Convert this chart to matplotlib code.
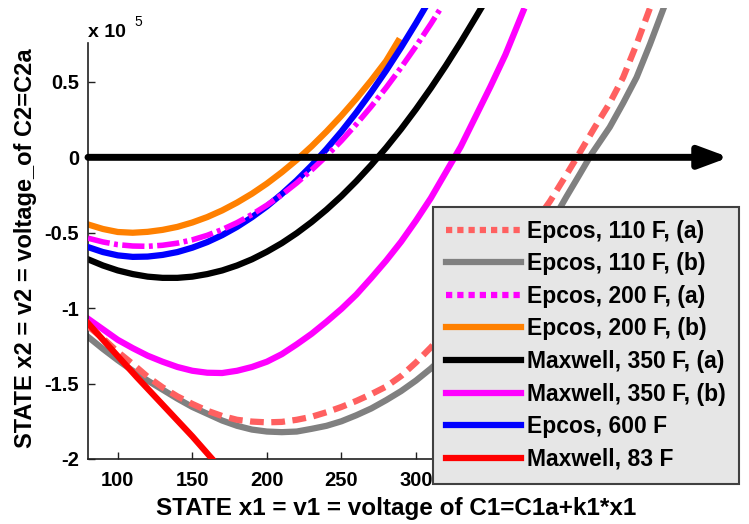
import matplotlib
matplotlib.use("Agg")
import matplotlib.pyplot as plt
from matplotlib.lines import Line2D

plt.rcParams['font.family'] = ['Liberation Sans', 'DejaVu Sans']
plt.rcParams['font.weight'] = 'bold'

# ---- data (y in units of 1e5) ----
labels = ["Epcos, 110 F, (a)", "Epcos, 110 F, (b)", "Epcos, 200 F, (a)", "Epcos, 200 F, (b)",
          "Maxwell, 350 F, (a)", "Maxwell, 350 F, (b)", "Epcos, 600 F", "Maxwell, 83 F"]

e110a_x = [80, 90, 100, 110, 120, 130, 140, 150, 160, 170, 180, 190, 200, 210, 220, 230, 240, 250,
           260, 270, 280, 290, 300, 310, 320, 330, 340, 350, 360, 370, 380, 390, 400, 408, 420, 430,
           439, 448, 457]
e110a_y = [-1.12, -1.20, -1.29, -1.37, -1.455, -1.525, -1.585, -1.635, -1.68, -1.715, -1.74, -1.752,
           -1.757, -1.754, -1.74, -1.72, -1.69, -1.655, -1.615, -1.57, -1.52, -1.45, -1.36, -1.26,
           -1.15, -1.045, -0.935, -0.82, -0.70, -0.57, -0.43, -0.29, -0.13, 0.0, 0.20, 0.36, 0.53,
           0.75, 0.99]

e110b_x = [80, 90, 100, 110, 120, 130, 140, 150, 160, 170, 180, 190, 200, 210, 220, 230, 240, 250,
           260, 270, 280, 290, 300, 310, 320, 330, 340, 350, 360, 370, 380, 390, 401, 410, 418, 430,
           439, 448, 457, 466]
e110b_y = [-1.19, -1.27, -1.345, -1.415, -1.48, -1.54, -1.60, -1.655, -1.70, -1.745, -1.78, -1.805,
           -1.818, -1.822, -1.818, -1.80, -1.78, -1.75, -1.71, -1.665, -1.61, -1.55, -1.48, -1.40,
           -1.31, -1.21, -1.10, -0.99, -0.87, -0.74, -0.60, -0.45, -0.26, -0.11, 0.025, 0.20, 0.36,
           0.53, 0.75, 0.985]

e200a_x = [80, 90, 100, 110, 120, 130, 140, 150, 160, 170, 180, 190, 200, 210, 220, 230, 240, 250,
           260, 270, 280, 290, 300, 310, 318]
e200a_y = [-0.536, -0.561, -0.579, -0.588, -0.59, -0.583, -0.569, -0.547, -0.517, -0.479, -0.433,
           -0.379, -0.317, -0.248, -0.170, -0.084, 0.009, 0.11, 0.22, 0.337, 0.462, 0.595, 0.736,
           0.885, 1.01]

e200b_x = [80, 90, 100, 110, 120, 130, 140, 150, 160, 170, 180, 190, 200, 210, 220, 230, 240, 250,
           260, 270, 280, 288]
e200b_y = [-0.445, -0.475, -0.495, -0.50, -0.494, -0.481, -0.461, -0.432, -0.396, -0.352, -0.30,
           -0.241, -0.174, -0.099, -0.017, 0.073, 0.171, 0.276, 0.389, 0.51, 0.639, 0.77]

m350a_x = [80, 90, 100, 110, 120, 130, 140, 150, 160, 170, 180, 190, 200, 210, 220, 230, 240, 250,
           260, 270, 280, 290, 300, 310, 320, 330, 340, 345]
m350a_y = [-0.676, -0.717, -0.75, -0.774, -0.791, -0.799, -0.799, -0.791, -0.774, -0.75, -0.717,
           -0.676, -0.626, -0.569, -0.503, -0.429, -0.347, -0.257, -0.158, -0.051, 0.064, 0.187,
           0.319, 0.459, 0.607, 0.763, 0.927, 1.01]

m350b_x = [80, 90, 100, 110, 120, 130, 140, 150, 160, 170, 180, 190, 200, 210, 220, 230, 240, 250,
           260, 270, 280, 290, 300, 310, 320, 330, 340, 350, 360, 372]
m350b_y = [-1.07, -1.14, -1.21, -1.265, -1.315, -1.355, -1.39, -1.415, -1.428, -1.43, -1.415, -1.39,
           -1.355, -1.305, -1.24, -1.17, -1.09, -1.005, -0.91, -0.80, -0.685, -0.56, -0.42, -0.27,
           -0.10, 0.07, 0.27, 0.47, 0.68, 0.97]

e600_x = [80, 90, 100, 110, 120, 130, 140, 150, 160, 170, 180, 190, 200, 210, 220, 230, 240, 250,
          260, 270, 280, 290, 300, 307]
e600_y = [-0.595, -0.628, -0.65, -0.66, -0.658, -0.647, -0.628, -0.599, -0.562, -0.516, -0.461,
          -0.397, -0.325, -0.243, -0.153, -0.054, 0.055, 0.171, 0.297, 0.432, 0.575, 0.728, 0.889,
          1.007]

m83_x = [80, 113, 150, 166]
m83_y = [-1.10, -1.46, -1.85, -2.03]

arrow_x = [80, 510]

xticks = [100, 150, 200, 250, 300, 350, 400, 450, 500]
# labels beyond 300 sit under the legend in the reference
xtick_labels = ["100", "150", "200", "250", "300", "", "", "", ""]
yticks = [-2, -1.5, -1, -0.5, 0, 0.5]
ytick_labels = ["-2", "-1.5", "-1", "-0.5", "0", "0.5"]

# ---- figure ----
W, H = 749, 524
fig = plt.figure(figsize=(W / 100, H / 100), dpi=100)
ax = fig.add_axes([88 / W, (H - 459) / H, (729 - 88) / W, (459 - 8) / H])
ax.set_xlim(80, 510)
ax.set_ylim(-2, 0.99)

LW = 4.5
ax.plot(e110b_x, e110b_y, color='#808080', lw=LW, zorder=2)
ax.plot(e110a_x, e110a_y, color='#ff6060', lw=LW, ls=(0, (2.2, 1.2)), zorder=3)
ax.plot(e200b_x, e200b_y, color='#ff8000', lw=LW, zorder=2)
ax.plot(e600_x, e600_y, color='#0000ff', lw=LW, zorder=3)
ax.plot(e200a_x, e200a_y, color='#ff00ff', lw=4, ls=(0, (4.0, 0.8, 0.7, 0.8)), zorder=4)
ax.plot(m350a_x, m350a_y, color='black', lw=LW, zorder=2)
ax.plot(m350b_x, m350b_y, color='#ff00ff', lw=LW, zorder=2)
ax.plot(m83_x, m83_y, color='#ff0000', lw=LW, zorder=5)

ax.annotate('', xy=(arrow_x[1], 0), xytext=(arrow_x[0], 0),
            arrowprops=dict(arrowstyle='-|>,head_length=0.35,head_width=0.13',
                            lw=5, color='black', mutation_scale=50,
                            shrinkA=0, shrinkB=0),
            annotation_clip=False, zorder=6)

for s in ['top', 'right']:
    ax.spines[s].set_visible(False)
ax.spines['left'].set_bounds(-2, 0.76)
for s in ['left', 'bottom']:
    ax.spines[s].set_linewidth(1.2)
    ax.spines[s].set_color('#202020')

ax.set_xticks(xticks)
ax.set_xticklabels(xtick_labels)
ax.set_yticks(yticks)
ax.set_yticklabels(ytick_labels)
ax.tick_params(axis='both', direction='in', length=5, width=1, labelsize=14.5, colors='#202020',
               labelcolor='black')
ax.tick_params(axis='x', pad=8.5)
ax.tick_params(axis='y', pad=6.5)

fig.text(396 / W, (H - 508) / H, "STATE x1 = v1 = voltage of C1=C1a+k1*x1",
         ha='center', va='center', fontsize=17.5, fontweight='bold')
fig.text(26 / W, (H - 248) / H, "STATE x2 = v2 = voltage_of C2=C2a",
         ha='center', va='center', rotation=90, fontsize=17, fontweight='bold')
fig.text(88 / W, (H - 37) / H, "x 10", ha='left', va='baseline', fontsize=14, fontweight='bold')
fig.text(134 / W, (H - 26) / H, "5", ha='left', va='baseline', fontsize=10, fontweight='normal')

# legend
colors = ['#ff6060', '#808080', '#ff00ff', '#ff8000', 'black', '#ff00ff', '#0000ff', '#ff0000']
styles = [(0, (1.0, 0.8)), '-', (0, (1.0, 0.8)), '-', '-', '-', '-', '-']
handles = [Line2D([], [], color=c, ls=s, lw=LW) for c, s in zip(colors, styles)]
leg = ax.legend(handles, labels, loc='upper left', bbox_to_anchor=(433 / W, (H - 207) / H),
                bbox_transform=fig.transFigure, borderaxespad=0, fontsize=16.5,
                frameon=True, fancybox=False, framealpha=1, facecolor='#e6e6e6',
                edgecolor='#404040', handlelength=3.27, handletextpad=0.3,
                borderpad=0.55, labelspacing=0.42)
leg.get_frame().set_linewidth(1.5)
leg.set_zorder(10)
for t in leg.get_texts():
    t.set_fontweight('bold')

fig.savefig('out.png', dpi=100)
